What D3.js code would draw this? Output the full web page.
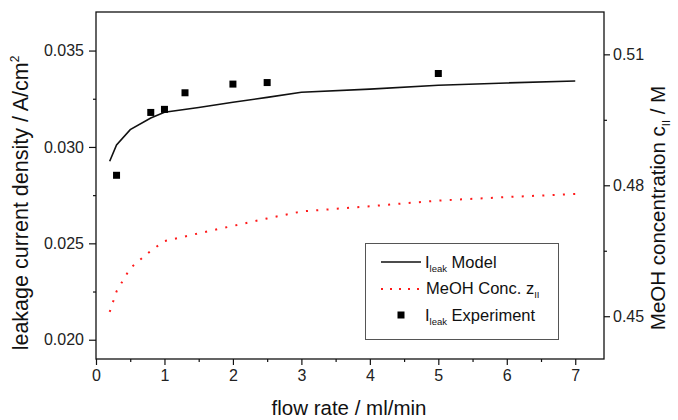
<!DOCTYPE html>
<html><head><meta charset="utf-8">
<script src="https://cdn.jsdelivr.net/npm/d3@7"></script>
<style>
html,body{margin:0;padding:0;background:#fff;}
svg{display:block;font-family:"Liberation Sans",Arial,sans-serif;}
</style></head>
<body>
<svg id="chart" width="678" height="420"></svg>
<script>
// ---- data ----
const modelFlow = [0.2, 0.3, 0.5, 0.8, 1, 1.5, 2, 2.5, 3, 4, 5, 6, 7];
const modelLeak = [0.02926, 0.03010, 0.03090, 0.03150, 0.03180, 0.03205, 0.03232, 0.03257, 0.03284, 0.03300, 0.03320, 0.03332, 0.03342];
const concFlow  = [0.2, 0.3, 0.5, 0.8, 1, 1.5, 2, 2.5, 3, 4, 5, 6, 7];
const concMeOH  = [0.4510, 0.4557, 0.4610, 0.4650, 0.4672, 0.4690, 0.4707, 0.4724, 0.4740, 0.4752, 0.4765, 0.4773, 0.4780];
const expFlow   = [0.3, 0.8, 1, 1.3, 2, 2.5, 5];
const expLeak   = [0.02853, 0.03179, 0.03195, 0.03281, 0.03326, 0.03334, 0.03381];
const xTicks = [0, 1, 2, 3, 4, 5, 6, 7];
const yLeftTicks = [0.020, 0.025, 0.030, 0.035];
const yRightTicks = [0.45, 0.48, 0.51];

const svg = d3.select("#chart");
const L = 96, R = 604, T = 12, B = 359;
const x = d3.scaleLinear().domain([0, 7.42]).range([L, R]);
const yL = d3.scaleLinear().domain([0.019, 0.037]).range([B, T]);
const yR = d3.scaleLinear().domain([0.4402, 0.5197]).range([B, T]);

const tickColor = "#222";
const fontSize = 16;

// frame
svg.append("rect").attr("x", L).attr("y", T).attr("width", R - L).attr("height", B - T)
  .attr("fill", "none").attr("stroke", "#111").attr("stroke-width", 1.3);

// axes
function styleAxis(g) {
  g.select(".domain").remove();
  g.selectAll("line").attr("stroke", "#111").attr("stroke-width", 1.2);
  g.selectAll("text").attr("fill", tickColor).style("font-size", fontSize + "px")
    .style("font-family", '"Liberation Sans",Arial,sans-serif');
}
const xMinor = d3.range(0.5, 7.4, 1);
svg.append("g").attr("transform", `translate(0,${B})`)
  .call(d3.axisBottom(x).tickValues(xTicks).tickFormat(d3.format("d")).tickSize(6).tickPadding(5))
  .call(styleAxis);
svg.append("g").attr("transform", `translate(0,${B})`)
  .call(d3.axisBottom(x).tickValues(xMinor).tickFormat("").tickSize(3))
  .call(styleAxis);

svg.append("g").attr("transform", `translate(${L},0)`)
  .call(d3.axisLeft(yL).tickValues(yLeftTicks).tickFormat(d3.format(".3f")).tickSize(7).tickPadding(5))
  .call(styleAxis);
svg.append("g").attr("transform", `translate(${L},0)`)
  .call(d3.axisLeft(yL).tickValues([0.0225, 0.0275, 0.0325]).tickFormat("").tickSize(3))
  .call(styleAxis);

svg.append("g").attr("transform", `translate(${R},0)`)
  .call(d3.axisRight(yR).tickValues(yRightTicks).tickFormat(d3.format(".2f")).tickSize(6).tickPadding(3))
  .call(styleAxis);
svg.append("g").attr("transform", `translate(${R},0)`)
  .call(d3.axisRight(yR).tickValues([0.465, 0.495]).tickFormat("").tickSize(3))
  .call(styleAxis);

// red dotted conc line
const concData = concFlow.map((f, i) => [f, concMeOH[i]]);
svg.append("path").datum(concData)
  .attr("d", d3.line().x(d => x(d[0])).y(d => yR(d[1])))
  .attr("fill", "none").attr("stroke", "#ff1a1a").attr("stroke-width", 2)
  .attr("stroke-dasharray", "2,8.3");

// model line
const modelData = modelFlow.map((f, i) => [f, modelLeak[i]]);
svg.append("path").datum(modelData)
  .attr("d", d3.line().x(d => x(d[0])).y(d => yL(d[1])))
  .attr("fill", "none").attr("stroke", "#111").attr("stroke-width", 1.6);

// experiment squares
const sq = 7;
svg.append("g").selectAll("rect").data(expFlow.map((f, i) => [f, expLeak[i]])).join("rect")
  .attr("x", d => x(d[0]) - sq / 2).attr("y", d => yL(d[1]) - sq / 2)
  .attr("width", sq).attr("height", sq).attr("fill", "#000");

// legend
const lg = svg.append("g");
lg.append("rect").attr("x", 365.5).attr("y", 243.5).attr("width", 193).attr("height", 96)
  .attr("fill", "#fff").attr("stroke", "#555").attr("stroke-width", 1);
const legFont = 16.5;
function legText(xp, yp, parts) {
  const t = lg.append("text").attr("x", xp).attr("y", yp).attr("fill", "#111")
    .style("font-size", legFont + "px");
  parts.forEach(p => {
    const s = t.append("tspan").text(p.t);
    if (p.sub) s.style("font-size", "9.5px").attr("dy", 4);
    if (p.back) s.attr("dy", -4);
  });
}
// row 1
lg.append("line").attr("x1", 381).attr("x2", 421).attr("y1", 262).attr("y2", 262)
  .attr("stroke", "#111").attr("stroke-width", 1.6);
legText(425, 268, [{t: "I"}, {t: "leak", sub: true}, {t: " Model", back: true}]);
// row 2
lg.append("line").attr("x1", 381).attr("x2", 421).attr("y1", 289).attr("y2", 289)
  .attr("stroke", "#ff1a1a").attr("stroke-width", 2).attr("stroke-dasharray", "2,7");
legText(426, 294, [{t: "MeOH Conc. z"}, {t: "II", sub: true}]);
// row 3
lg.append("rect").attr("x", 401 - sq / 2).attr("y", 315 - sq / 2).attr("width", sq).attr("height", sq).attr("fill", "#000");
legText(425, 321, [{t: "I"}, {t: "leak", sub: true}, {t: " Experiment", back: true}]);

// axis titles
svg.append("text").attr("x", 349).attr("y", 415).attr("text-anchor", "middle")
  .attr("fill", "#111").style("font-size", "20.5px").text("flow rate / ml/min");

const lt = svg.append("text").attr("transform", `translate(28,203) rotate(-90)`)
  .attr("text-anchor", "middle").attr("fill", "#111").style("font-size", "21.5px");
lt.append("tspan").text("leakage current density / A/cm");
lt.append("tspan").text("2").style("font-size", "12px").attr("dy", -9);

const rt = svg.append("text").attr("transform", `translate(665,208) rotate(-90)`)
  .attr("text-anchor", "middle").attr("fill", "#111").style("font-size", "20.5px");
rt.append("tspan").text("MeOH concentration c");
rt.append("tspan").text("II").style("font-size", "11px").attr("dy", 5);
rt.append("tspan").text(" / M").attr("dy", -5);
</script>
</body></html>
